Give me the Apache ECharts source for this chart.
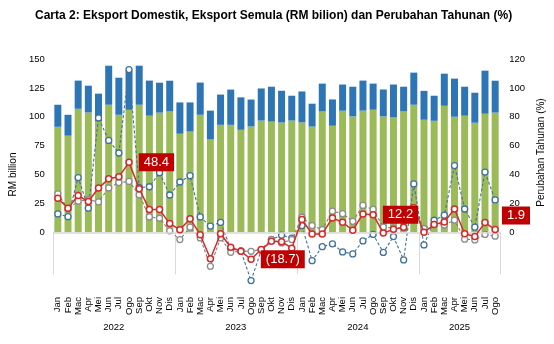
<!DOCTYPE html>
<html>
<head>
<meta charset="utf-8">
<script src="https://cdn.jsdelivr.net/npm/echarts@6/dist/echarts.min.js"></script>
<style>
html,body{margin:0;padding:0;background:#fff;}
#chart{width:554px;height:344px;}
</style>
</head>
<body>
<div id="chart"></div>
<script>
// ---- data ----
const monthNames = ['Jan','Feb','Mac','Apr','Mei','Jun','Jul','Ogo','Sep','Okt','Nov','Dis'];
const years = ['2022','2023','2024','2025'];
const monthsPerYear = [12, 12, 12, 8];

// Eksport domestik (RM bilion)
const domestic = [
  91.3, 83.6, 106.9, 103.7, 95.9, 110.4, 101.7, 106.0, 110.4, 100.9, 103.6, 104.6,
  85.3, 87.2, 101.7, 80.3, 93.0, 93.0, 88.7, 91.6, 96.7, 95.8, 95.0, 96.7,
  95.1, 91.5, 104.6, 92.2, 105.2, 100.3, 105.3, 106.1, 100.3, 99.4, 104.6, 110.4,
  97.4, 96.5, 109.5, 100.0, 100.9, 94.8, 102.6, 103.6
];
// Eksport semula (RM bilion)
const reExport = [
  19.1, 18.1, 24.4, 23.2, 24.1, 33.8, 32.1, 34.0, 33.8, 30.4, 25.9, 26.6,
  27.1, 25.2, 27.9, 25.0, 26.2, 30.5, 28.1, 23.3, 27.8, 30.2, 27.5, 21.5,
  26.8, 19.8, 24.1, 22.8, 22.7, 25.7, 26.0, 22.6, 23.3, 28.5, 21.4, 27.8,
  25.0, 21.7, 27.8, 33.0, 25.1, 26.0, 37.3, 27.6
];
// Perubahan tahunan (%) - jumlah eksport
const totalChg = [
  23.6, 16.7, 25.4, 21.3, 30.6, 37.0, 38.4, 48.4, 30.1, 15.7, 15.7, 6.0,
  1.8, 9.4, -1.7, -18.3, -1.0, -10.4, -13.2, -18.7, -12.0, -6.3, -6.5, -11.0,
  8.8, -1.2, -1.2, 9.9, 6.9, 1.4, 12.7, 12.2, -0.5, 2.0, 3.5, 17.0,
  0.0, 5.3, 7.1, 16.1, -1.0, -3.0, 6.7, 1.9
];
// Perubahan tahunan (%) - eksport domestik
const domesticChg = [
  26.6, 16.1, 21.5, 22.5, 21.0, 30.7, 34.4, 35.2, 25.9, 10.6, 9.7, 1.0,
  -5.1, 3.5, -3.9, -23.6, -3.9, -13.9, -13.0, -13.2, -12.0, -5.1, -7.4, -5.1,
  10.4, 4.6, 1.8, 14.6, 12.9, 7.6, 18.6, 15.8, 3.6, 3.0, 3.2, 16.0,
  2.6, 5.5, 5.0, 8.4, -4.8, -5.3, -1.5, -2.7
];
// Perubahan tahunan (%) - eksport semula
const reExportChg = [
  12.7, 10.8, 37.9, 16.7, 79.2, 63.6, 54.9, 112.7, 31.0, 31.5, 41.2, 25.8,
  34.8, 39.2, 10.6, 4.3, 6.8, -11.5, -13.0, -33.5, -12.5, -5.0, -2.0, -4.0,
  4.6, -19.7, -10.0, -8.0, -13.6, -15.0, -6.0, -1.5, -14.0, -3.0, -19.2, 33.5,
  -8.8, 8.3, 11.8, 46.2, 16.1, 3.5, 41.7, 22.4
];
// months with a value box (Ogos of each year)
const annotated = [7, 19, 31, 43];

// ---- build ----
const categories = [];
const yearStarts = [0];
const yearMids = [];
let acc = 0;
years.forEach((y, k) => {
  for (let m = 0; m < monthsPerYear[k]; m++) categories.push(monthNames[m]);
  yearMids.push(acc + monthsPerYear[k] / 2);
  acc += monthsPerYear[k];
  yearStarts.push(acc);
});

const fmtPct = v => v < 0 ? '(' + Math.abs(v).toFixed(1) + ')' : v.toFixed(1);

const redData = totalChg.map((v, i) => {
  if (!annotated.includes(i)) return v;
  const last = i === totalChg.length - 1;
  return {
    value: v,
    label: {
      show: true,
      position: 'right',
      distance: last ? 3 : 6,
      offset: last ? [0, -14] : [0, 0],
      formatter: p => fmtPct(p.value),
      backgroundColor: '#C00000',
      color: '#fff',
      fontFamily: 'Liberation Sans, Arial, sans-serif',
      fontSize: 13,
      padding: [3, 5, 2, 5]
    }
  };
});

const FONT = 'Liberation Sans, Arial, sans-serif';
const chart = echarts.init(document.getElementById('chart'), null, {renderer: 'canvas'});

const lineMarker = (c) => ({color: '#fff', borderColor: c, borderWidth: 1.3});

chart.setOption({
  animation: false,
  backgroundColor: '#fff',
  title: {
    text: 'Carta 2: Eksport Domestik, Eksport Semula (RM bilion) dan Perubahan Tahunan (%)',
    left: 30, top: 5,
    textStyle: {fontFamily: FONT, fontSize: 12, fontWeight: 'bold', color: '#000'}
  },
  grid: {left: 41, right: 45, top: 59, bottom: 54, containLabel: false},
  xAxis: [{
    type: 'category',
    data: categories,
    boundaryGap: true,
    axisLine: {show: false},
    axisTick: {show: false},
    axisLabel: {rotate: 90, interval: 0, fontFamily: FONT, fontSize: 9.5, color: '#000', margin: 7}
  }, {
    type: 'value',
    position: 'bottom',
    min: 0, max: categories.length,
    axisLine: {show: false},
    splitLine: {show: false},
    axisTick: {show: true, customValues: yearStarts, length: 42, lineStyle: {color: '#D9D9D9', width: 1}},
    axisLabel: {
      customValues: yearMids,
      margin: 32,
      fontFamily: FONT, fontSize: 9.5, color: '#000',
      formatter: v => years[yearMids.indexOf(v)]
    }
  }],
  yAxis: [{
    type: 'value',
    min: -50, max: 150, interval: 25,
    name: 'RM billion',
    nameLocation: 'middle',
    nameRotate: 90,
    nameGap: 22,
    nameTextStyle: {fontFamily: FONT, fontSize: 10, color: '#000'},
    axisLine: {show: false}, axisTick: {show: false}, splitLine: {show: false},
    axisLabel: {fontFamily: FONT, fontSize: 9.5, color: '#000', margin: 8,
      formatter: v => v < 0 ? '' : String(v)}
  }, {
    type: 'value',
    min: -40, max: 120, interval: 20,
    name: 'Perubahan Tahunan (%)',
    nameLocation: 'middle',
    nameRotate: 90,
    nameGap: 22,
    nameTextStyle: {fontFamily: FONT, fontSize: 10, color: '#000', padding: [0, 0, 0, 44]},
    axisLine: {show: false}, axisTick: {show: false}, splitLine: {show: false},
    axisLabel: {fontFamily: FONT, fontSize: 9.5, color: '#000', margin: 9,
      formatter: v => v < 0 ? '' : String(v)}
  }],
  series: [{
    name: 'Eksport Domestik',
    type: 'bar', stack: 'x', yAxisIndex: 0,
    data: domestic,
    barWidth: 7,
    itemStyle: {color: '#9BBB59'},
    markLine: {
      silent: true, symbol: 'none', label: {show: false},
      lineStyle: {color: '#D9D9D9', width: 1.5, type: 'solid'},
      data: [{yAxis: 0}]
    },
    z: 1
  }, {
    name: 'Eksport Semula',
    type: 'bar', stack: 'x', yAxisIndex: 0,
    data: reExport,
    barWidth: 7,
    itemStyle: {color: '#2E75B6'},
    z: 1
  }, {
    name: 'Eksport Semula (%)',
    type: 'line', yAxisIndex: 1,
    data: reExportChg,
    symbol: 'circle', symbolSize: 6,
    lineStyle: {color: '#41719C', width: 1.1, type: [3, 2]},
    itemStyle: lineMarker('#41719C'),
    z: 3
  }, {
    name: 'Eksport Domestik (%)',
    type: 'line', yAxisIndex: 1,
    data: domesticChg,
    symbol: 'circle', symbolSize: 6,
    lineStyle: {color: '#7F7F7F', width: 1.1, type: [3, 2]},
    itemStyle: lineMarker('#8C8C8C'),
    z: 4
  }, {
    name: 'Jumlah (%)',
    type: 'line', yAxisIndex: 1,
    data: redData,
    symbol: 'circle', symbolSize: 6,
    lineStyle: {color: '#D42A2A', width: 1.5},
    itemStyle: {color: '#fff', borderColor: '#D42A2A', borderWidth: 1.5},
    z: 5
  }]
});
</script>
</body>
</html>
